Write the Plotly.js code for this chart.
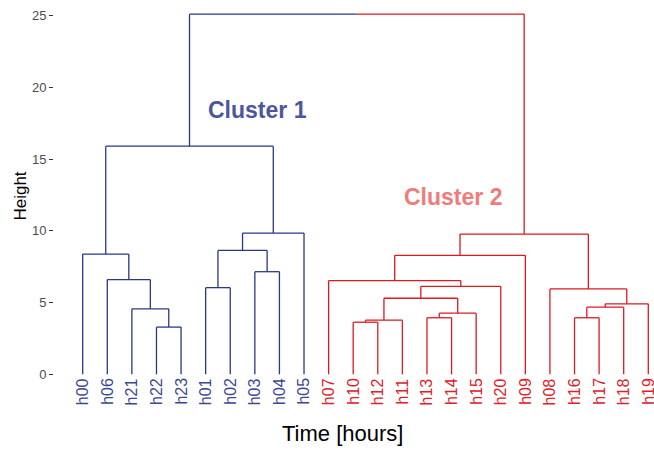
<!DOCTYPE html>
<html>
<head>
<meta charset="utf-8">
<script src="https://cdn.plot.ly/plotly-3.0.1.min.js"></script>
<style>html,body{margin:0;padding:0;background:#fff;}#chart{width:654px;height:450px;}</style>
</head>
<body>
<div id="chart"></div>
<script>
// Leaf order along the x axis
const leaves = ['h00','h06','h21','h22','h23','h01','h02','h03','h04','h05',
                'h07','h10','h12','h11','h13','h14','h15','h20','h09','h08','h16','h17','h18','h19'];
// Cluster of each leaf
const leafCluster = [1,1,1,1,1,1,1,1,1,1, 2,2,2,2,2,2,2,2,2,2,2,2,2,2];
// Merge table (hclust style): negative = leaf (1-based position), positive = earlier merge row
const mergeLeft  = [-4,-3,-2,-1,-6,-8, 5, 7, 4,-12, 10,-15, 12, 11, 14,-11, 16,-21, 18, 19,-20, 17, 9];
const mergeRight = [-5, 1, 2, 3,-7,-9, 6,-10, 8,-13,-14,-16,-17, 13,-18, 15,-19,-22,-23,-24, 20, 21, 22];
const mergeHeight= [3.29,4.56,6.6,8.38,6.04,7.15,8.63,9.84,15.9,3.63,3.77,3.94,4.26,5.30,6.13,6.53,8.29,3.94,4.68,4.91,5.95,9.77,25.1];
// Cluster text
const clusterNames = ['Cluster 1','Cluster 2'];
const clusterLabelX = [8.09, 16.04];
const clusterLabelY = [18.42, 12.36];
// Axis texts
const xTitle = 'Time [hours]';
const yTitle = 'Height';
const yTickVals = [0,5,10,15,20,25];
const yTickText = ['0','5','10','15','20','25'];

const lineColors = {1:'#2b3883', 2:'#dc1a22'};
const labelColors = {1:'#3c4891', 2:'#e0202a'};
const clusterTextColors = ['#4b56a0', '#f07b7b'];

// compute node positions
const nodeX = [], nodeCl = [];
function childInfo(c){
  if (c < 0) return {x: -c, y: 0, cl: leafCluster[-c-1]};
  return {x: nodeX[c-1], y: mergeHeight[c-1], cl: nodeCl[c-1]};
}
const segs = {1:{x:[],y:[]}, 2:{x:[],y:[]}};
function addSeg(cl, x0, y0, x1, y1){
  segs[cl].x.push(x0, x1, null);
  segs[cl].y.push(y0, y1, null);
}
for (let i = 0; i < mergeHeight.length; i++){
  const L = childInfo(mergeLeft[i]), R = childInfo(mergeRight[i]);
  const h = mergeHeight[i];
  const xm = (L.x + R.x) / 2;
  nodeX.push(xm);
  if (L.cl === R.cl){
    nodeCl.push(L.cl);
    addSeg(L.cl, L.x, L.y, L.x, h);
    addSeg(L.cl, L.x, h, R.x, h);
    addSeg(L.cl, R.x, R.y, R.x, h);
  } else {
    nodeCl.push(0);
    addSeg(L.cl, L.x, L.y, L.x, h);
    addSeg(L.cl, L.x, h, xm, h);
    addSeg(R.cl, xm, h, R.x, h);
    addSeg(R.cl, R.x, R.y, R.x, h);
  }
}

const traces = [1,2].map(cl => ({
  type:'scatter', mode:'lines', x: segs[cl].x, y: segs[cl].y,
  line:{color: lineColors[cl], width:1.3}, hoverinfo:'skip', showlegend:false,
  connectgaps:false
}));

const FONT = 'Liberation Sans, Arial, sans-serif';
const annotations = [];
leaves.forEach((lab, i) => {
  annotations.push({
    x: i + 1, y: -0.12, xref:'x', yref:'y', text: lab, showarrow:false,
    textangle:-90, xanchor:'center', yanchor:'top',
    font:{family:FONT, size:16, color: labelColors[leafCluster[i]]}
  });
});
clusterNames.forEach((t, i) => {
  annotations.push({
    x: clusterLabelX[i], y: clusterLabelY[i], xref:'x', yref:'y', text:'<b>'+t+'</b>',
    showarrow:false, xanchor:'center', yanchor:'middle',
    font:{family:FONT, size:23, color: clusterTextColors[i]}
  });
});
// x-axis title (placed as in the reference, slightly left of plot centre)
annotations.push({
  x: 0.481, y: -0.105, xref:'paper', yref:'paper', text: xTitle, showarrow:false,
  xanchor:'center', yanchor:'middle', font:{family:FONT, size:22, color:'#000000'}
});

const layout = {
  width:654, height:450,
  margin:{l:54, r:0, t:0, b:58},
  paper_bgcolor:'#ffffff', plot_bgcolor:'#ffffff',
  font:{family:FONT},
  showlegend:false,
  xaxis:{
    range:[-0.167, 24.232], showgrid:false, zeroline:false, showline:false,
    showticklabels:false, ticks:''
  },
  yaxis:{
    range:[-1.233, 26.083], showgrid:false, zeroline:false, showline:false,
    tickvals:yTickVals, ticktext:yTickText,
    ticks:'outside', ticklen:4, tickwidth:1.1, tickcolor:'#333333',
    tickfont:{size:13, color:'#4d4d4d'},
    title:{text:yTitle, font:{size:17, color:'#000000'}, standoff:0}
  },
  annotations: annotations
};

Plotly.newPlot('chart', traces, layout, {staticPlot:true, displayModeBar:false});
</script>
</body>
</html>
